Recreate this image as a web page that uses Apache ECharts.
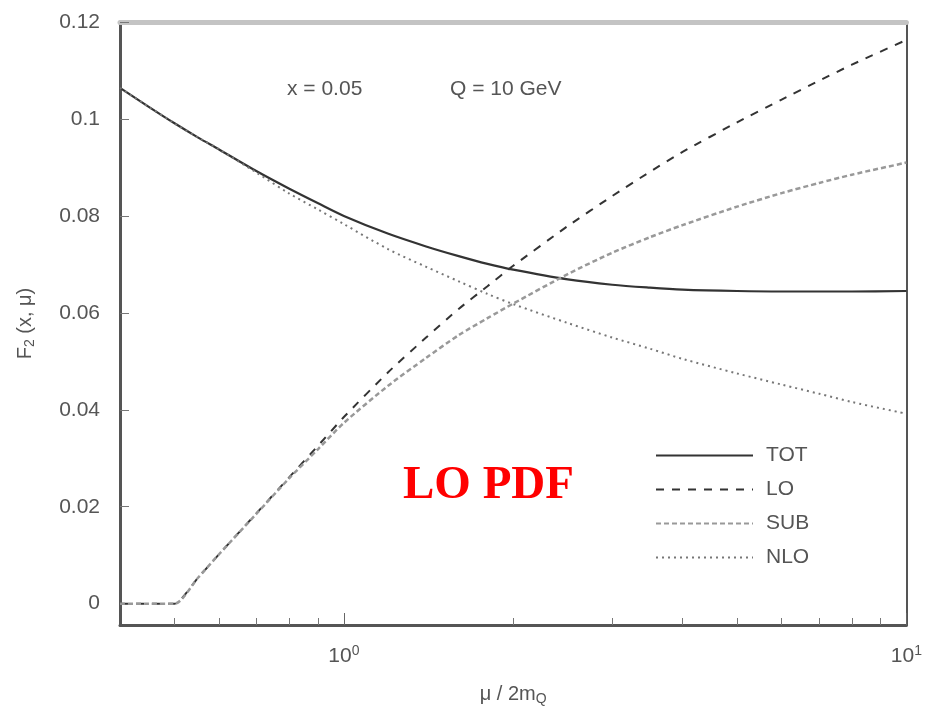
<!DOCTYPE html>
<html>
<head>
<meta charset="utf-8">
<script src="https://cdn.jsdelivr.net/npm/echarts@6/dist/echarts.min.js"></script>
<style>
html,body{margin:0;padding:0;background:#fff;}
#chart{width:925px;height:715px;}
</style>
</head>
<body>
<div id="chart"></div>
<script>
// mu / 2m_Q sample positions
var muRatio = [0.4, 0.45, 0.5, 0.55, 0.6, 0.7, 0.8, 0.9, 1, 1.2, 1.4, 1.6, 1.8, 2, 2.5, 3, 3.5, 4, 5, 6, 7, 8, 10];
var totValues = [0.1064, 0.1025, 0.0991, 0.0962, 0.0937, 0.0892, 0.0856, 0.0826, 0.0800, 0.0763, 0.0737, 0.0717, 0.0701, 0.0689, 0.0669, 0.0658, 0.0652, 0.0648, 0.0645, 0.0644, 0.0644, 0.0644, 0.0645];
var loValues  = [0, 0, 0, 0.0053, 0.0102, 0.0187, 0.0261, 0.0326, 0.0385, 0.0478, 0.0549, 0.0608, 0.0655, 0.0697, 0.0779, 0.0841, 0.0891, 0.0932, 0.0993, 0.1040, 0.1079, 0.1112, 0.1163];
var subValues = [0, 0, 0, 0.0053, 0.0102, 0.0186, 0.0259, 0.0319, 0.0373, 0.0450, 0.0507, 0.0554, 0.0589, 0.0619, 0.0680, 0.0724, 0.0756, 0.0781, 0.0819, 0.0847, 0.0868, 0.0885, 0.0910];
var nloValues = [0.1064, 0.1025, 0.0991, 0.0962, 0.0937, 0.0889, 0.0846, 0.0813, 0.0783, 0.0731, 0.0695, 0.0665, 0.0639, 0.0618, 0.0579, 0.0549, 0.0526, 0.0505, 0.0475, 0.0452, 0.0433, 0.0416, 0.0392];

var seriesNames = ['TOT', 'LO', 'SUB', 'NLO'];
var yTickValues = [0, 0.02, 0.04, 0.06, 0.08, 0.1, 0.12];
var xMajorTicks = [1, 10];
var xMinorTicks = [0.5, 0.6, 0.7, 0.8, 0.9, 2, 3, 4, 5, 6, 7, 8, 9];
var annotX = 'x = 0.05';
var annotQ = 'Q = 10 GeV';
var stampText = 'LO PDF';

function pairs(xs, ys) { return xs.map(function (x, i) { return [x, ys[i]]; }); }

var FONT = 'Liberation Sans';
var TXT = '#555';
var AXC = '#555';

var chart = echarts.init(document.getElementById('chart'), null, {renderer: 'canvas'});

var option = {
  backgroundColor: '#fff',
  animation: false,
  grid: {left: 120, top: 22, right: 18, bottom: 90, containLabel: false},
  xAxis: [
    {
      type: 'log', logBase: 10, min: 0.4, max: 10, position: 'bottom',
      axisLine: {show: true, onZero: false, lineStyle: {color: AXC, width: 3}},
      axisTick: {show: true, inside: true, length: 7, customValues: xMinorTicks, lineStyle: {color: '#777', width: 1}},
      axisLabel: {
        show: true, customValues: xMajorTicks, margin: 19,
        fontFamily: FONT, fontSize: 21, color: TXT,
        formatter: function (v) { return '10{sup|' + Math.round(Math.log10(v)) + '}'; },
        rich: {sup: {fontFamily: FONT, fontSize: 14, color: TXT, verticalAlign: 'top', padding: [0, 0, 10, 0]}}
      },
      splitLine: {show: false},
      name: 'μ / 2m{sub|Q}', nameLocation: 'middle', nameGap: 57,
      nameTextStyle: {fontFamily: FONT, fontSize: 20, color: TXT,
        rich: {sub: {fontFamily: FONT, fontSize: 14, color: TXT, padding: [10, 0, 0, 0]}}}
    },
    {
      type: 'log', logBase: 10, min: 0.4, max: 10, position: 'bottom',
      axisLine: {show: false, onZero: false},
      axisTick: {show: true, inside: true, length: 12, customValues: xMajorTicks, lineStyle: {color: '#666', width: 1}},
      axisLabel: {show: false}, splitLine: {show: false}
    },
    {
      type: 'log', logBase: 10, min: 0.4, max: 10, position: 'top',
      axisLine: {show: true, onZero: false, lineStyle: {color: '#c4c4c4', width: 5}},
      axisTick: {show: false}, axisLabel: {show: false}, splitLine: {show: false}
    }
  ],
  yAxis: [
    {
      type: 'value', min: -0.0044, max: 0.12, position: 'left',
      axisLine: {show: true, onZero: false, lineStyle: {color: AXC, width: 3}},
      axisTick: {show: true, inside: true, length: 9, customValues: yTickValues, lineStyle: {color: '#777', width: 1}},
      axisLabel: {show: true, customValues: yTickValues, margin: 20, fontFamily: FONT, fontSize: 21, color: TXT},
      splitLine: {show: false},
      name: 'F{sub|2} (x, μ)', nameLocation: 'middle', nameRotate: 90, nameGap: 83,
      nameTextStyle: {fontFamily: FONT, fontSize: 20, color: TXT,
        rich: {sub: {fontFamily: FONT, fontSize: 14, color: TXT, padding: [10, 0, 0, 0]}}}
    },
    {
      type: 'value', min: -0.0044, max: 0.12, position: 'right',
      axisLine: {show: true, onZero: false, lineStyle: {color: AXC, width: 2}},
      axisTick: {show: false}, axisLabel: {show: false}, splitLine: {show: false}
    }
  ],
  legend: {
    orient: 'vertical', left: 655, top: 445, padding: 0,
    itemWidth: 97, itemHeight: 20, itemGap: 13,
    data: seriesNames,
    itemStyle: {color: 'rgba(0,0,0,0)', borderColor: 'rgba(0,0,0,0)', borderWidth: 0},
    textStyle: {fontFamily: FONT, fontSize: 21, color: TXT, padding: [0, 0, 0, 8]}
  },
  graphic: [
    {type: 'text', left: 287, top: 79, style: {text: annotX, font: '21px "Liberation Sans"', fill: TXT}},
    {type: 'text', left: 450, top: 79, style: {text: annotQ, font: '21px "Liberation Sans"', fill: TXT}},
    {type: 'text', left: 403, top: 462, z: 100, style: {text: stampText, font: 'bold 47px "Liberation Serif"', fill: '#ff0000'}}
  ],
  series: [
    {name: 'TOT', type: 'line', data: pairs(muRatio, totValues), symbol: 'none', smooth: 0.3,
     lineStyle: {color: '#333', width: 2.2, type: 'solid'}, itemStyle: {color: '#333'}},
    {name: 'LO', type: 'line', data: pairs(muRatio, loValues), symbol: 'none', smooth: 0.2,
     lineStyle: {color: '#333', width: 2, type: [8, 8]}, itemStyle: {color: '#333'}},
    {name: 'SUB', type: 'line', data: pairs(muRatio, subValues), symbol: 'none', smooth: 0.25,
     lineStyle: {color: '#999', width: 2.5, type: [5, 3]}, itemStyle: {color: '#999'}},
    {name: 'NLO', type: 'line', data: pairs(muRatio, nloValues), symbol: 'none', smooth: 0.3,
     lineStyle: {color: '#777', width: 2, type: [2, 4]}, itemStyle: {color: '#777'}}
  ]
};
chart.setOption(option);
</script>
</body>
</html>
